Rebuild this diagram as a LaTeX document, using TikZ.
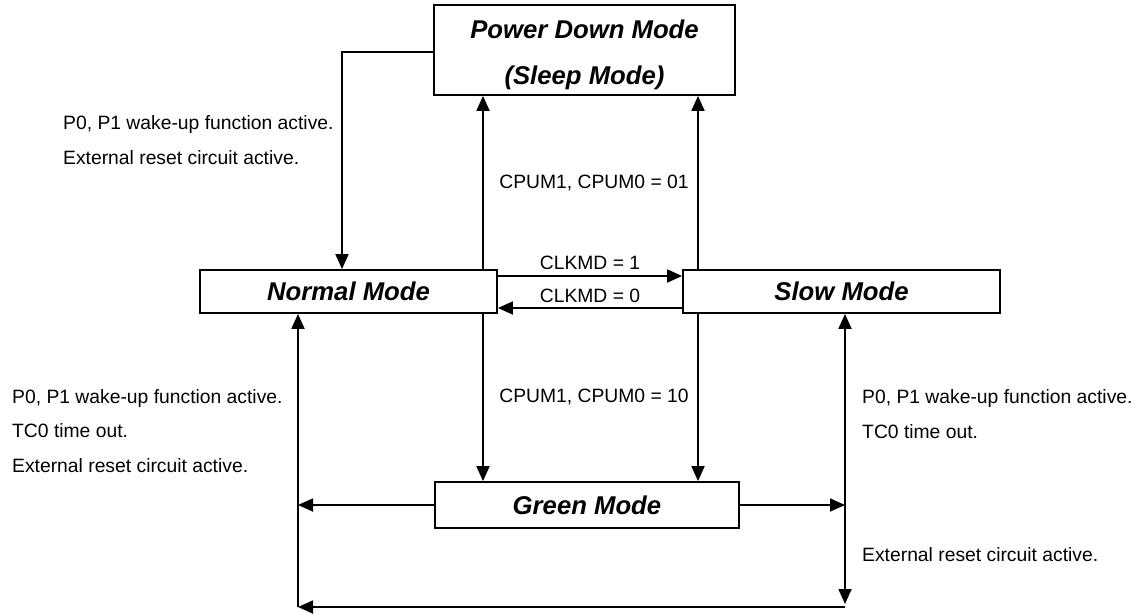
\documentclass[tikz,border=0pt]{standalone}
\usepackage{fontspec}
\setmainfont{Liberation Sans}
\usetikzlibrary{arrows.meta}
\begin{document}
\begin{tikzpicture}[x=1pt,y=-1pt,
  modebox/.style={draw, line width=1.8pt, inner sep=0pt},
  modetext/.style={font=\fontsize{25.7}{46}\selectfont\bfseries\itshape, align=center, inner sep=0pt},
  conn/.style={line width=1.8pt, -{Triangle[length=15pt,width=13pt]}},
  lbl/.style={font=\fontsize{19.3}{34.5}\selectfont, inner sep=0pt, anchor=west, align=left},
  clbl/.style={font=\fontsize{19.3}{34.5}\selectfont, inner sep=0pt}]
\useasboundingbox (0,0) rectangle (1136,616);
% boxes
\node[modebox, minimum width=301pt, minimum height=90pt] (pd) at (584.5,50) {};
\node[modetext] (pdt) at (584.5,55) {Power Down Mode\\(Sleep Mode)};
\node[modebox, modetext, minimum width=297pt, minimum height=43pt] (nm) at (348.5,291.5) {Normal Mode};
\node[modebox, modetext, minimum width=317pt, minimum height=43pt] (sm) at (841.5,291.5) {Slow Mode};
\node[modebox, modetext, minimum width=304pt, minimum height=46pt] (gm) at (587,505) {Green Mode};
% helper coordinates
\coordinate (xa) at (483,0);
\coordinate (xb) at (698,0);
\coordinate (xl) at (342,0);
\coordinate (xL) at (298,0);
\coordinate (xR) at (845,0);
\coordinate (ya) at (0,52);
\coordinate (y1) at (0,276);
\coordinate (y0) at (0,308);
\coordinate (bl) at (298,607);
\coordinate (br) at (845,607);
\coordinate (brt) at (845,604);
% connectors
\draw[conn] (nm.north -| xa) -- (pd.south -| xa);
\draw[conn] (sm.north -| xb) -- (pd.south -| xb);
\draw[conn] (pd.west |- ya) -| (nm.north -| xl);
\draw[conn] (nm.east |- y1) -- (sm.west |- y1);
\draw[conn] (sm.west |- y0) -- (nm.east |- y0);
\draw[conn] (nm.south -| xa) -- (gm.north -| xa);
\draw[conn] (sm.south -| xb) -- (gm.north -| xb);
\draw[conn] (gm.west) -- (gm.west -| xL);
\draw[conn] (gm.east) -- (gm.east -| xR);
\draw[conn] (gm.east -| xR) -- (sm.south -| xR);
\draw[conn] (gm.east -| xR) -- (brt);
\draw[conn] (br) -- (bl);
\draw[conn] (bl) -- (nm.south -| xL);
% labels
\node[lbl] (t1) at (63,140) {P0, P1 wake-up function active.\\External reset circuit active.};
\node[clbl] (c01) at (594,183) {CPUM1, CPUM0 = 01};
\node[clbl] (k1) at (590,263) {CLKMD = 1};
\node[clbl] (k0) at (590,296) {CLKMD = 0};
\node[clbl] (c10) at (594,397) {CPUM1, CPUM0 = 10};
\node[lbl] (t2) at (12,431) {P0, P1 wake-up function active.\\TC0 time out.\\External reset circuit active.};
\node[lbl] (t3) at (862,414) {P0, P1 wake-up function active.\\TC0 time out.};
\node[lbl] (t4) at (862,555) {External reset circuit active.};
\end{tikzpicture}
\end{document}
